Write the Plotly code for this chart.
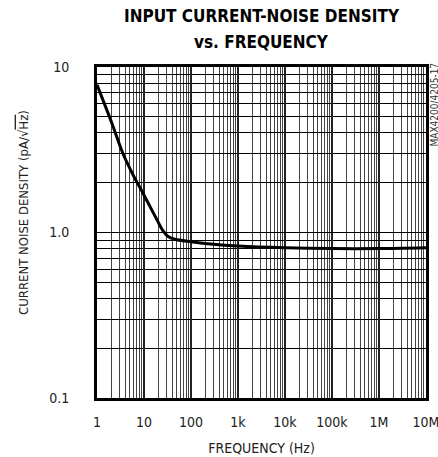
import plotly.graph_objects as go

# data
freq_hz = [1, 2, 3.6, 6, 9.5, 15, 19, 25, 32, 45, 100, 300, 1000, 1e4, 1e5, 1e6, 1e7]
noise_pa = [7.8, 4.7, 2.98, 2.2, 1.73, 1.35, 1.19, 1.03, 0.95, 0.91, 0.88, 0.85, 0.83, 0.81, 0.80, 0.80, 0.81]

x_tickvals = [1, 10, 100, 1e3, 1e4, 1e5, 1e6, 1e7]
x_ticktext = ["1", "10", "100", "1k", "10k", "100k", "1M", "10M"]
y_tickvals = [0.1, 1, 10]
y_ticktext = ["0.1", "1.0", "10"]

x_minor = [m * d for d in [1, 10, 100, 1e3, 1e4, 1e5, 1e6] for m in range(2, 10)]
y_minor = [m * d for d in [0.1, 1] for m in range(2, 10)]

FONT = "DejaVu Sans Condensed, Liberation Sans Narrow, sans-serif"

fig = go.Figure()
fig.add_trace(go.Scatter(
    x=freq_hz, y=noise_pa, mode="lines",
    line=dict(color="black", width=3, shape="spline", smoothing=0.8),
    showlegend=False, hoverinfo="skip",
))

fig.update_layout(
    width=438, height=457,
    margin=dict(l=97, r=12, t=67, b=59),
    paper_bgcolor="white", plot_bgcolor="white",
    font=dict(family=FONT, color="#222", size=14),
    xaxis=dict(
        type="log", range=[0, 7], automargin=False,
        tickvals=x_tickvals, ticktext=x_ticktext,
        showgrid=True, gridcolor="#222", gridwidth=2,
        minor=dict(tickvals=x_minor, showgrid=True, gridcolor="#444", gridwidth=1, ticks=""),
        showline=True, linecolor="black", linewidth=3, mirror=True,
        ticks="", tickfont=dict(size=14, family=FONT, color="#222"),
        ticklabelstandoff=9, ticklabeloverflow="allow",
        title=dict(text="FREQUENCY (Hz)", font=dict(size=14, family=FONT, color="#222"), standoff=15),
        zeroline=False,
    ),
    yaxis=dict(
        type="log", range=[-1, 1], automargin=False,
        tickvals=y_tickvals, ticktext=y_ticktext,
        showgrid=True, gridcolor="black", gridwidth=1,
        minor=dict(tickvals=y_minor, showgrid=True, gridcolor="black", gridwidth=1, ticks=""),
        showline=True, linecolor="black", linewidth=3, mirror=True,
        ticks="", tickfont=dict(size=14, family=FONT, color="#222"),
        ticklabelstandoff=22, ticklabeloverflow="allow",
        zeroline=False,
    ),
    annotations=[
        dict(text="<b>INPUT CURRENT-NOISE DENSITY</b>", xref="paper", yref="paper",
             x=0.5, y=1.154, xanchor="center", yanchor="middle", showarrow=False,
             font=dict(family=FONT, size=17, color="black")),
        dict(text="<b>vs. FREQUENCY</b>", xref="paper", yref="paper",
             x=0.5, y=1.0755, xanchor="center", yanchor="middle", showarrow=False,
             font=dict(family=FONT, size=17, color="black")),
        dict(text="CURRENT NOISE DENSITY (pA/√<span style='text-decoration:overline'>Hz</span>)",
             xref="paper", yref="paper", x=-0.224, y=0.56, xanchor="center", yanchor="middle",
             textangle=-90, showarrow=False,
             font=dict(size=13, family=FONT, color="#222")),
        dict(text="MAX4200/4205-17", xref="paper", yref="paper", x=1.0, y=1.0,
             xanchor="left", yanchor="top", textangle=-90, showarrow=False,
             xshift=0, yshift=6, font=dict(size=10, family=FONT, color="#333")),
    ],
)

fig.write_html(
    "out.html",
    config={"displayModeBar": False},
    post_script="document.body.style.margin='0';document.body.style.overflow='hidden';",
)
